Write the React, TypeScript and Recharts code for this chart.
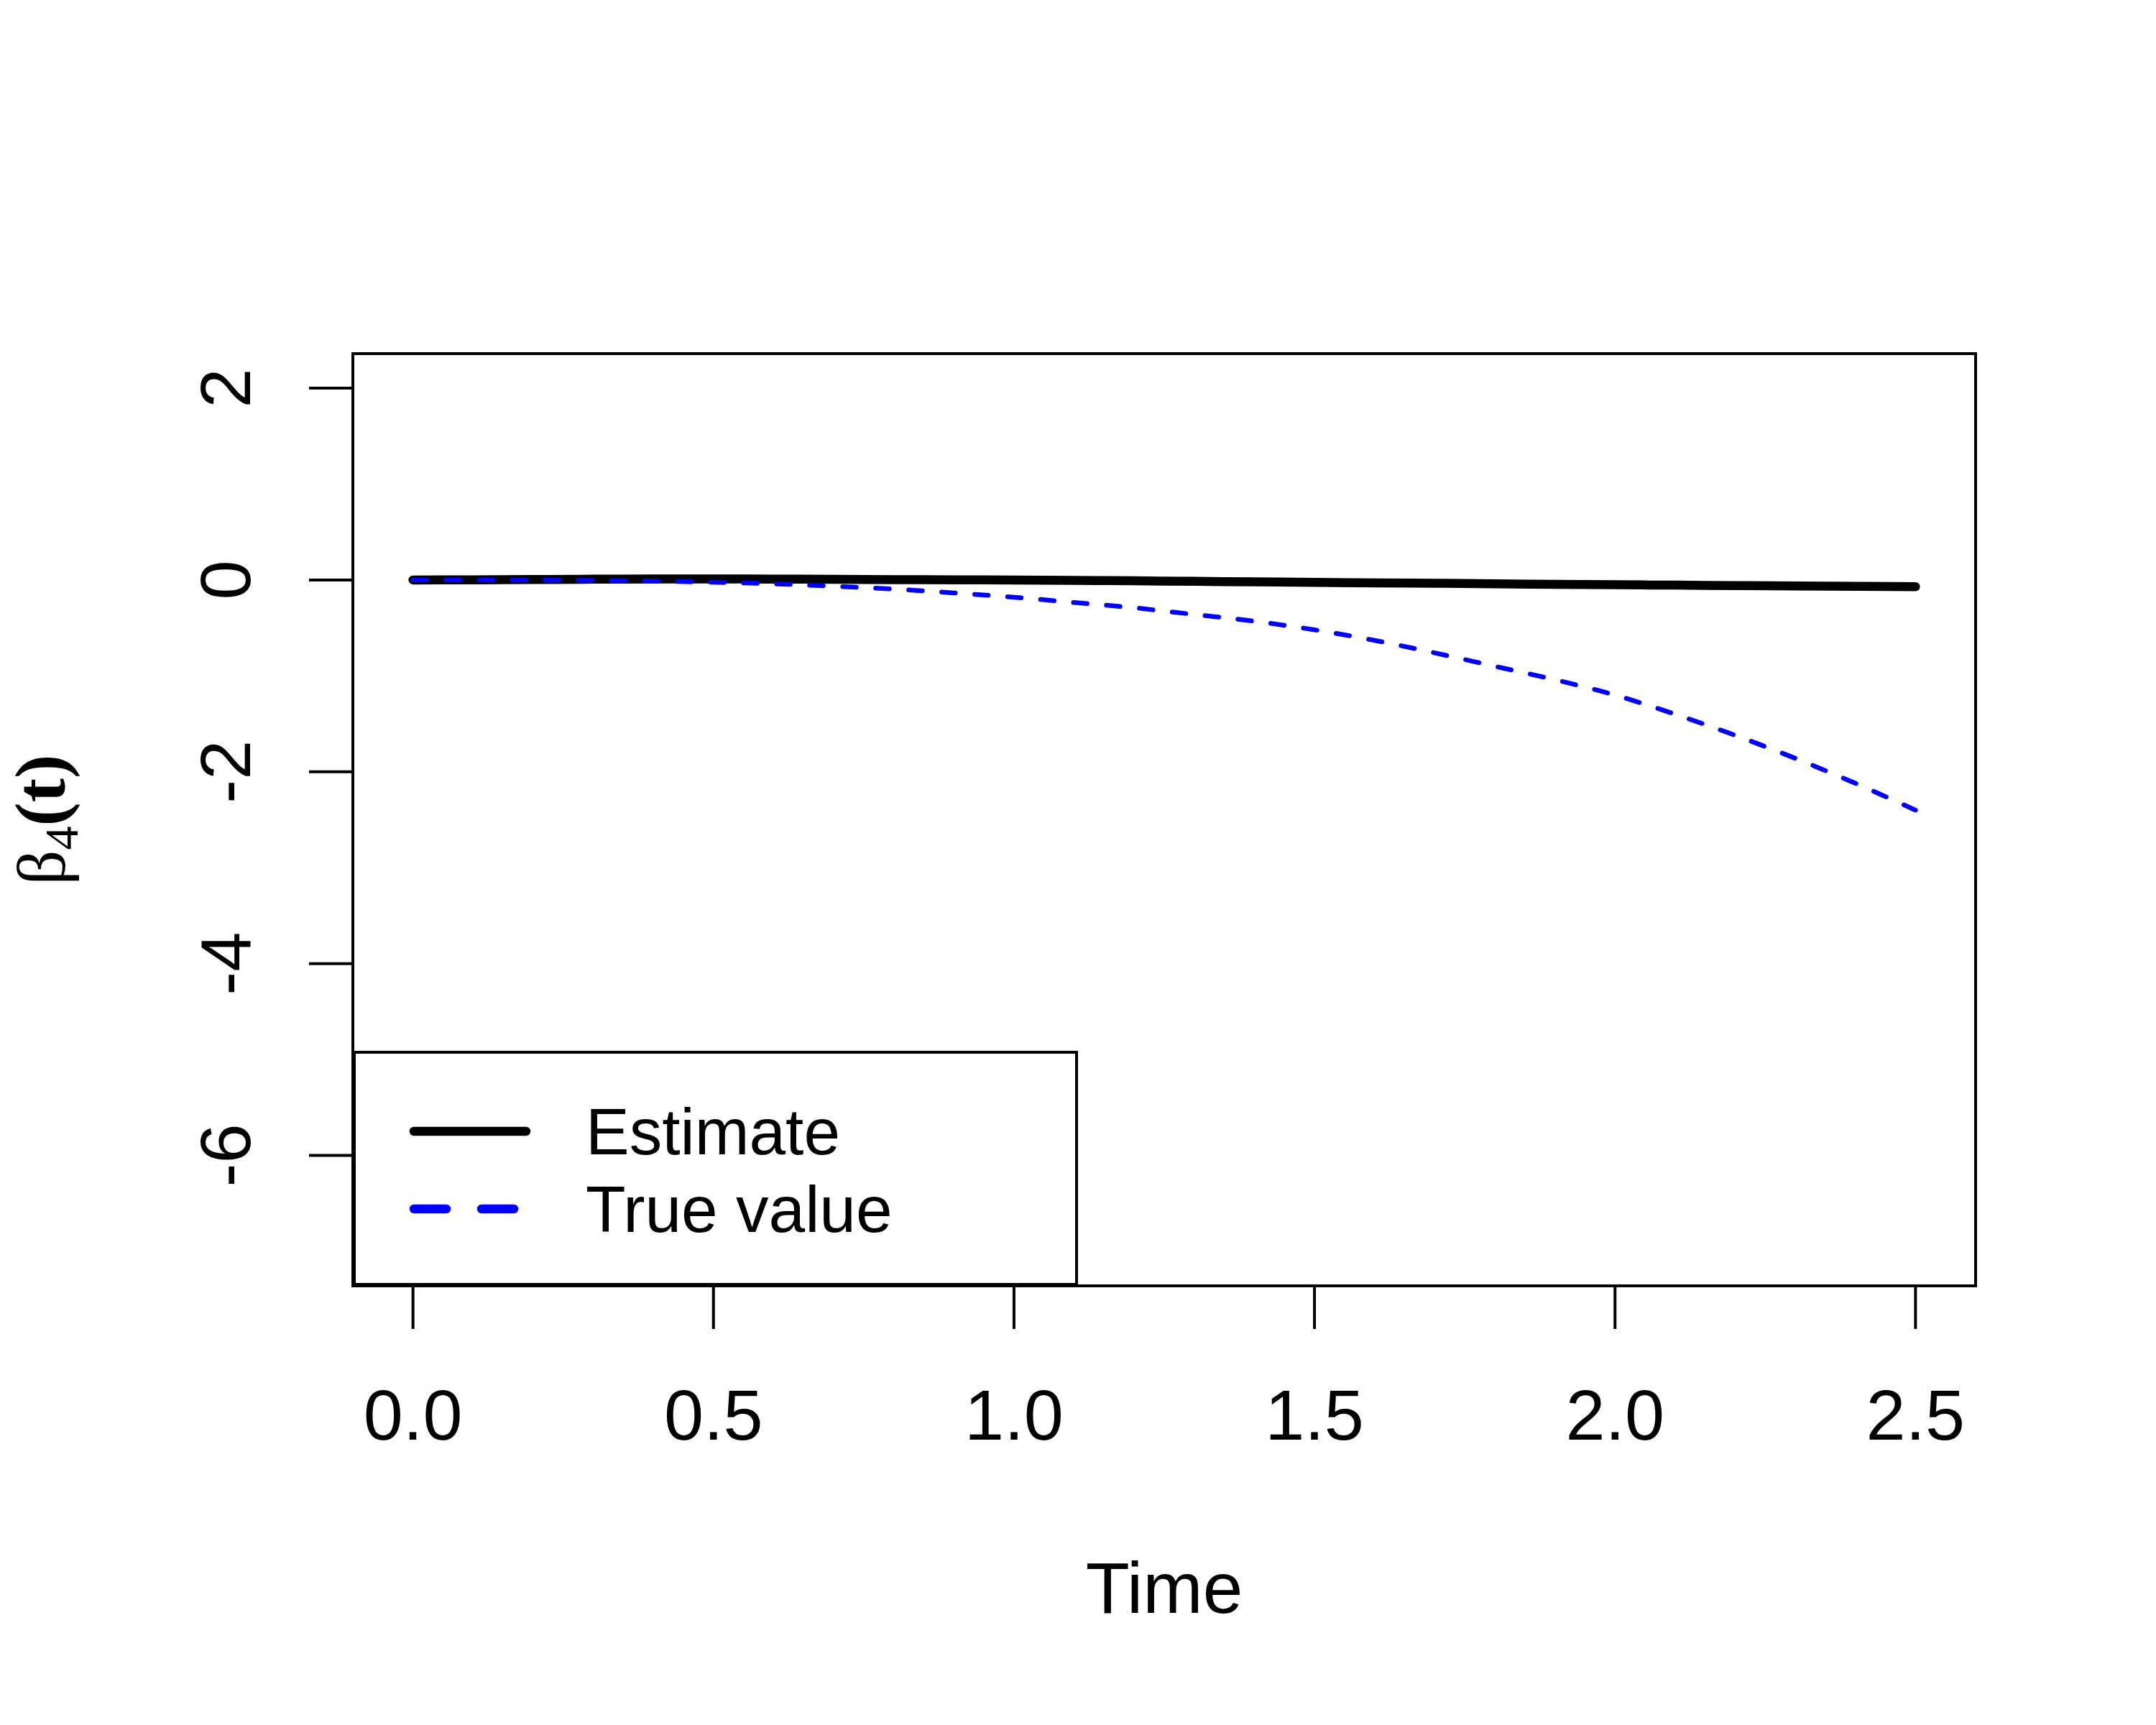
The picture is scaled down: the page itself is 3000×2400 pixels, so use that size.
import { LineChart, Line, XAxis, YAxis, ReferenceArea, Legend } from 'recharts';

// time grid and the two curves
const time = [0, 0.1, 0.2, 0.3, 0.4, 0.5, 0.6, 0.7, 0.8, 0.9, 1.0, 1.1, 1.2, 1.3, 1.4, 1.5, 1.6, 1.7, 1.8, 1.9, 2.0, 2.1, 2.2, 2.3, 2.4, 2.5];
const estimate = [0, 0.002, 0.005, 0.008, 0.01, 0.01, 0.009, 0.007, 0.004, 0.002, 0, -0.004, -0.009, -0.014, -0.02, -0.025, -0.03, -0.034, -0.04, -0.045, -0.05, -0.054, -0.058, -0.062, -0.066, -0.07];
const trueValue = [0, 0, -0.001, -0.005, -0.012, -0.024, -0.04, -0.065, -0.095, -0.135, -0.18, -0.235, -0.29, -0.36, -0.43, -0.52, -0.63, -0.76, -0.9, -1.04, -1.2, -1.4, -1.62, -1.86, -2.12, -2.4];

const xTicks = [0, 0.5, 1, 1.5, 2, 2.5];
const yTicks = [-6, -4, -2, 0, 2];
const xDomain = [-0.1, 2.6];
const yDomain = [-7.36, 2.36];

const data = time.map((t, i) => ({ t, est: estimate[i], tru: trueValue[i] }));

const SANS = '"Liberation Sans", Arial, Helvetica, sans-serif';
const SERIF = '"Liberation Serif", "Times New Roman", serif';

const legendDash: Record<string, string | undefined> = { est: undefined, tru: '45 49' };

function XTick({ x, y, payload }: any) {
  return (
    <text x={x} y={y} textAnchor="middle" fontSize={99} fontFamily={SANS} fill="#000">
      {Number(payload.value).toFixed(1)}
    </text>
  );
}

function YTick({ x, y, payload }: any) {
  return (
    <text x={x} y={y} transform={`rotate(-90, ${x}, ${y})`} textAnchor="middle" fontSize={99} fontFamily={SANS} fill="#000">
      {String(payload.value)}
    </text>
  );
}

function YLabel({ viewBox }: any) {
  const cx = 90;
  const cy = viewBox.y + viewBox.height / 2;
  return (
    <text x={cx} y={cy} transform={`rotate(-90, ${cx}, ${cy})`} textAnchor="middle" fontFamily={SERIF} fill="#000">
      <tspan fontSize={96}>β</tspan>
      <tspan fontSize={66} dy={18}>4</tspan>
      <tspan fontSize={100} fontWeight="bold" dy={-18}>(t)</tspan>
    </text>
  );
}

function XLabel({ viewBox }: any) {
  return (
    <text x={viewBox.x + viewBox.width / 2} y={viewBox.y + 455} textAnchor="middle" fontSize={100} fontFamily={SANS} fill="#000">
      Time
    </text>
  );
}

function LegendBox({ payload }: any) {
  const items = payload || [];
  return (
    <svg width={1009} height={327} style={{ display: 'block' }}>
      <rect x={2} y={2} width={1005} height={323} fill="#fff" stroke="#000" strokeWidth={4} />
      {items.map((entry: any, i: number) => {
        const cy = 112 + i * 108;
        return (
          <g key={entry.value}>
            <line
              x1={85}
              x2={241}
              y1={cy}
              y2={cy}
              stroke={entry.color}
              strokeWidth={12.5}
              strokeLinecap="round"
              strokeDasharray={legendDash[entry.dataKey]}
            />
            <text x={324} y={cy + 32} fontSize={91} fontFamily={SANS} fill="#000">
              {entry.value}
            </text>
          </g>
        );
      })}
    </svg>
  );
}

export default function App() {
  return (
    <div style={{ position: 'absolute', left: 0, top: 0, background: '#fff' }}>
      <LineChart width={3000} height={2400} data={data} margin={{ top: 492, right: 251, bottom: 0, left: 0 }}>
        <XAxis
          dataKey="t"
          type="number"
          domain={xDomain}
          ticks={xTicks}
          allowDataOverflow
          height={611}
          axisLine={false}
          tickSize={60}
          tickMargin={154}
          tickLine={{ stroke: '#000', strokeWidth: 4 }}
          tick={<XTick />}
          label={{ content: (p: any) => <XLabel viewBox={p.viewBox} /> }}
        />
        <YAxis
          type="number"
          domain={yDomain}
          ticks={yTicks}
          allowDataOverflow
          width={491}
          axisLine={false}
          tickSize={61}
          tickMargin={82}
          tickLine={{ stroke: '#000', strokeWidth: 4 }}
          tick={<YTick />}
          label={{ content: (p: any) => <YLabel viewBox={p.viewBox} /> }}
        />
        <ReferenceArea
          x1={xDomain[0]}
          x2={xDomain[1]}
          y1={yDomain[0]}
          y2={yDomain[1]}
          fill="none"
          fillOpacity={0}
          stroke="#000"
          strokeWidth={4}
          ifOverflow="visible"
        />
        <Line
          dataKey="est"
          name="Estimate"
          type="monotone"
          stroke="#000000"
          strokeWidth={12.5}
          strokeLinecap="round"
          dot={false}
          activeDot={false}
          isAnimationActive={false}
        />
        <Line
          dataKey="tru"
          name="True value"
          type="monotone"
          stroke="#0000ff"
          strokeWidth={6.5}
          strokeDasharray="19 27"
          strokeLinecap="round"
          dot={false}
          activeDot={false}
          isAnimationActive={false}
        />
        <Legend
          layout="horizontal"
          align="center"
          verticalAlign="middle"
          content={<LegendBox />}
          wrapperStyle={{ left: 491, top: 1462, width: 1009, height: 327, margin: 0, padding: 0 }}
        />
      </LineChart>
    </div>
  );
}
